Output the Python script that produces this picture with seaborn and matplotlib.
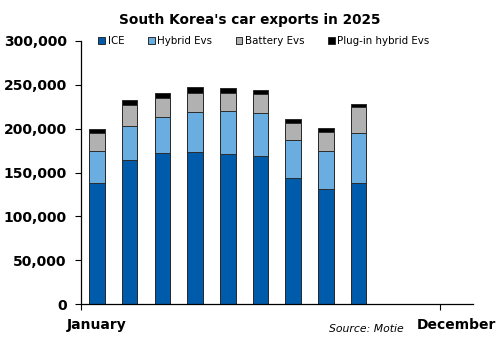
import matplotlib
matplotlib.use("Agg")
import matplotlib.pyplot as plt
import seaborn as sns
import numpy as np
import pandas as pd
from matplotlib.patches import Patch
from matplotlib.ticker import FuncFormatter

months = ["January", "February", "March", "April", "May", "June", "July",
          "August", "September", "October", "November", "December"]
ice = [138400, 163900, 172200, 173400, 171400, 168500, 143400, 130800, 137700, np.nan, np.nan, np.nan]
hybrid = [36500, 39500, 41500, 46000, 48800, 49000, 43700, 43700, 57400, np.nan, np.nan, np.nan]
battery = [19800, 23300, 20900, 20900, 20100, 22000, 19700, 21400, 29300, np.nan, np.nan, np.nan]
phev = [4600, 6000, 5700, 6900, 6100, 5000, 4600, 4500, 3700, np.nan, np.nan, np.nan]

series_names = ["ICE", "Hybrid Evs", "Battery Evs", "Plug-in hybrid Evs"]
colors = ["#005BAA", "#6AADE1", "#B1B1B1", "#000000"]

sns.set_style("white")
plt.rcParams['font.family'] = ['DejaVu Sans']
plt.rcParams['text.color'] = 'black'
plt.rcParams['xtick.color'] = 'black'
plt.rcParams['ytick.color'] = 'black'

df = pd.DataFrame({"month": months, "ICE": ice, "Hybrid Evs": hybrid,
                   "Battery Evs": battery, "Plug-in hybrid Evs": phev})
cum = df[series_names].cumsum(axis=1)

fig = plt.figure(figsize=(5.0, 3.47), dpi=100)
ax = fig.add_axes([80.6/500, 43/347, (473-80.6)/500, (304-41)/347])

for name, col in reversed(list(zip(series_names, colors))):
    sns.barplot(x=df["month"], y=cum[name], order=months, color=col, width=0.48,
                edgecolor="#2a2a2a", linewidth=0.7, saturation=1, ax=ax)

ax.set_ylim(0, 300000)
ax.set_xlim(-0.5, 11.5)
ax.set_yticks(np.arange(0, 300001, 50000))
ax.yaxis.set_major_formatter(FuncFormatter(lambda v, p: f"{int(v):,}"))
for lab in ax.get_yticklabels():
    lab.set_fontweight("bold")
ax.tick_params(axis="y", direction="out", length=4, width=0.8, labelsize=10, color="black",
               labelcolor="black", pad=6, left=True)

ax.set_xticks([-0.5, 10.5])
ax.set_xticklabels(["", ""])
ax.tick_params(axis="x", which="major", direction="out", length=4, width=0.8, color="black", bottom=True)
ax.set_xticks([0, 11], minor=True)
ax.set_xticklabels(["January", "December"], minor=True, fontweight="bold", fontsize=10, color="black")
ax.tick_params(axis="x", which="minor", length=0, pad=10)

ax.set_xlabel("")
ax.set_ylabel("")
for s in ["top", "right"]:
    ax.spines[s].set_visible(False)
for s in ["left", "bottom"]:
    ax.spines[s].set_color("black")
    ax.spines[s].set_linewidth(0.9)

handles = [Patch(facecolor=c, edgecolor="#2a2a2a", linewidth=0.7) for c in colors]
leg = ax.legend(handles, series_names, ncol=4, frameon=False, loc="center left",
                bbox_to_anchor=(0.035, 1.0), fontsize=7.4, handlelength=0.65, handleheight=0.75,
                handletextpad=0.25, columnspacing=2.3, borderaxespad=0, labelcolor="black")

fig.text(0.5, 1 - 20/347, "South Korea's car exports in 2025", ha="center", va="center",
         fontsize=9.8, fontweight="bold", color="black")
fig.text(366/500, 1 - 329/347, "Source: Motie", ha="center", va="center",
         fontsize=7.8, fontstyle="italic", color="black")

fig.savefig("out.png", dpi=100)
